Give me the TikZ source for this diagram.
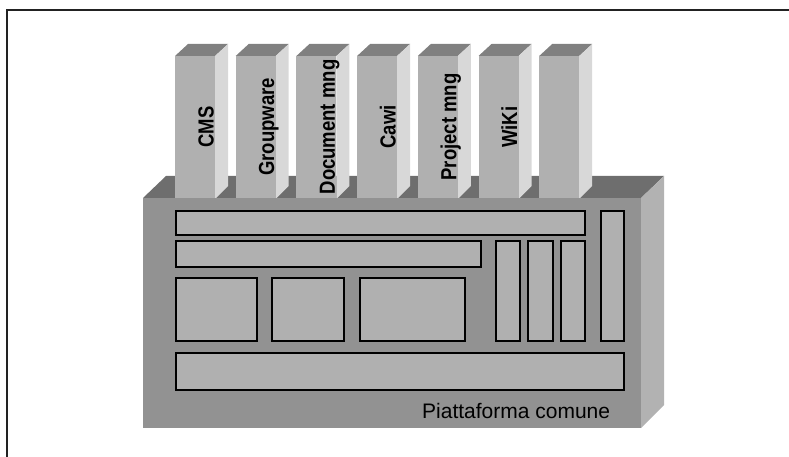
\documentclass[tikz,border=0pt]{standalone}
\usepackage{fontspec}
\setmainfont{Liberation Sans}
\definecolor{btop}{HTML}{6E6E6E}
\definecolor{bfront}{HTML}{929292}
\definecolor{bside}{HTML}{B2B2B2}
\definecolor{ptop}{HTML}{808080}
\definecolor{pfront}{HTML}{B0B0B0}
\definecolor{pside}{HTML}{D8D8D8}
\definecolor{inner}{HTML}{B0B0B0}
\definecolor{framec}{HTML}{222222}
\tikzset{
  innerbox/.style={fill=inner,draw=black,line width=1.3pt},
  pillarlabel/.style={rotate=90,anchor=base,inner sep=0pt,font=\fontsize{18.5}{20}\selectfont\bfseries},
  platlabel/.style={anchor=base west,inner sep=0pt,font=\fontsize{21}{24}\selectfont}
}
\begin{document}
\begin{tikzpicture}[x=1pt,y=-1pt,line join=miter]
\useasboundingbox (0,0) rectangle (789,457);
% frame
\draw[framec,line width=1.5pt] (7,457) -- (7,10) -- (789,10);
% block top face
\fill[btop] (143,198) -- (166,176) -- (664,176) -- (641,198) -- cycle;
% pillars
\foreach \i/\t in {0/CMS,1/Groupware,2/Document mng,3/Cawi,4/Project mng,5/WiKi,6/{}}{
  \pgfmathsetmacro{\xa}{175+60.7*\i}
  \fill[ptop] (\xa,56) -- (\xa+13,44) -- (\xa+53,44) -- (\xa+40,56) -- cycle;
  \fill[pside] (\xa+40,56) -- (\xa+53,44) -- (\xa+53,186) -- (\xa+40,199) -- cycle;
  \fill[pfront] (\xa,56) rectangle (\xa+40,199);
  \node[pillarlabel] (p\i) at (\xa+38.5,127) {\scalebox{1}[1.18]{\t}};
}
% block front and side
\fill[bfront] (143,198) rectangle (641,428);
\fill[bside] (641,198) -- (664,176) -- (664,405) -- (641,428) -- cycle;
% inner boxes
\draw[innerbox] (176,211) rectangle (585,235);
\draw[innerbox] (601,211) rectangle (624,341);
\draw[innerbox] (176,241) rectangle (481,267);
\draw[innerbox] (496,241) rectangle (520,341);
\draw[innerbox] (528,241) rectangle (553,341);
\draw[innerbox] (561,241) rectangle (585,341);
\draw[innerbox] (176,278) rectangle (257,341);
\draw[innerbox] (272,278) rectangle (344,341);
\draw[innerbox] (360,278) rectangle (465,341);
\draw[innerbox] (176,353) rectangle (624,390);
\node[platlabel] (plat) at (422,418) {Piattaforma comune};
\end{tikzpicture}
\end{document}
